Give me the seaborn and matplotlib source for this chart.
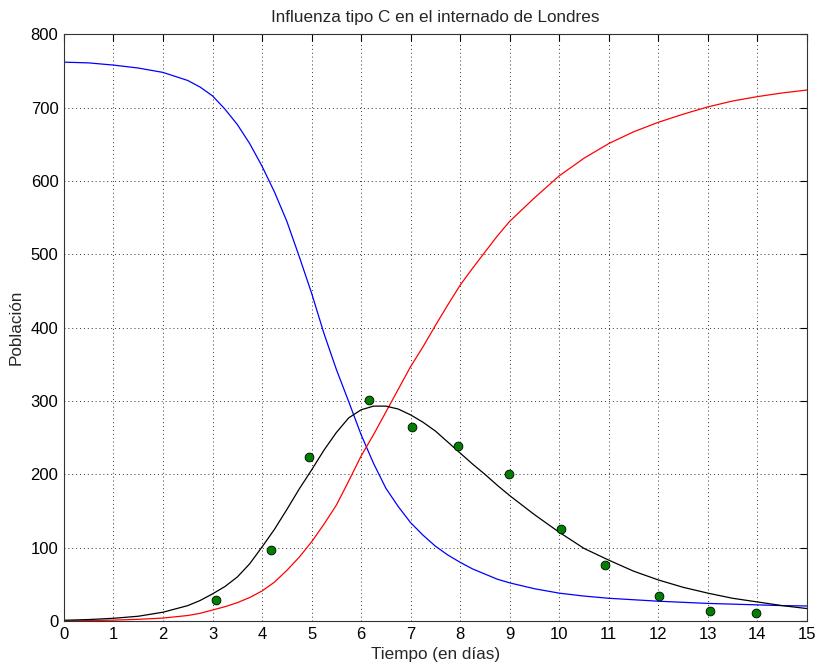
import matplotlib
matplotlib.use("Agg")
import matplotlib.pyplot as plt
import seaborn as sns
import pandas as pd

# Model curves
t_curve = [0, 0.5, 1, 1.5, 2, 2.5, 2.75, 3, 3.25, 3.5, 3.75, 4, 4.25, 4.5, 4.75,
           5, 5.25, 5.5, 5.75, 6, 6.25, 6.5, 6.75, 7, 7.25, 7.5, 7.75, 8, 8.25,
           8.5, 8.75, 9, 9.5, 10, 10.5, 11, 11.5, 12, 12.5, 13, 13.5, 14, 14.5, 15]
susceptibles = [762, 761, 758, 754, 748, 737, 728, 716, 698, 677, 651, 620, 585, 545, 497,
                447, 392, 343, 299, 254, 215, 181, 156, 134, 117, 102, 90, 80, 71,
                64, 57, 52, 44, 38, 34, 31, 29, 27, 25.5, 24, 23, 22, 21, 20.5]
infectados = [1, 2, 3.7, 6.5, 12, 21, 28, 37, 47, 60, 78, 101, 125, 152, 180,
              206, 233, 257, 277, 288, 293, 293, 289, 281, 271, 259, 244, 229, 214,
              200, 185, 171, 145, 121, 99, 83, 68, 56, 46, 38, 31, 26, 21, 17]
recuperados = [0, 0.5, 1.2, 2.3, 4, 7.5, 10.5, 15, 19.5, 25, 32, 41, 53, 69, 87,
               108, 132, 158, 191, 225, 254, 285, 316, 347, 374, 403, 431, 458, 481,
               503, 525, 545, 577, 607, 631, 651, 667, 680, 691, 701, 709, 715, 720, 724]

# Observed data
dias = [3.06, 4.18, 4.94, 6.16, 7.03, 7.96, 8.98, 10.04, 10.92, 12.01, 13.05, 13.98]
casos = [29, 97, 223, 301, 264, 239, 200, 125, 76, 33.5, 13, 11]

x_ticks = list(range(0, 16))
y_ticks = list(range(0, 801, 100))

sns.set_theme(style="white")
plt.rcParams['font.family'] = ['Liberation Sans', 'DejaVu Sans']

fig = plt.figure(figsize=(8.2, 6.71), dpi=100)
ax = fig.add_axes([0.078, 0.0745, 0.906, 0.8744])

curves = pd.DataFrame({"t": t_curve, "S": susceptibles, "I": infectados, "R": recuperados})
sns.lineplot(data=curves, x="t", y="S", ax=ax, color=(0, 0, 1), linewidth=0.9)
sns.lineplot(data=curves, x="t", y="R", ax=ax, color=(1, 0, 0), linewidth=0.9)
sns.lineplot(data=curves, x="t", y="I", ax=ax, color="black", linewidth=0.9)

obs = pd.DataFrame({"dia": dias, "casos": casos})
sns.scatterplot(data=obs, x="dia", y="casos", ax=ax, color=(0, 0.5, 0),
                edgecolor="black", linewidth=0.6, s=40, zorder=5)

ax.set_xlim(0, 15)
ax.set_ylim(0, 800)
ax.set_xticks(x_ticks)
ax.set_yticks(y_ticks)
ax.tick_params(direction="in", top=True, right=True, length=5, width=0.8,
               labelsize=12, colors="black", pad=4)
ax.grid(True, linestyle=(0, (1, 3)), color="#333333", linewidth=0.7)
for sp in ax.spines.values():
    sp.set_color("#333333")
    sp.set_linewidth(0.8)

ax.set_title("Influenza tipo C en el internado de Londres", fontsize=12.3, pad=9)
ax.set_xlabel("Tiempo (en días)", fontsize=12.3, labelpad=4)
ax.set_ylabel("Población", fontsize=12.3, labelpad=5)

fig.savefig("out.png", dpi=100)
